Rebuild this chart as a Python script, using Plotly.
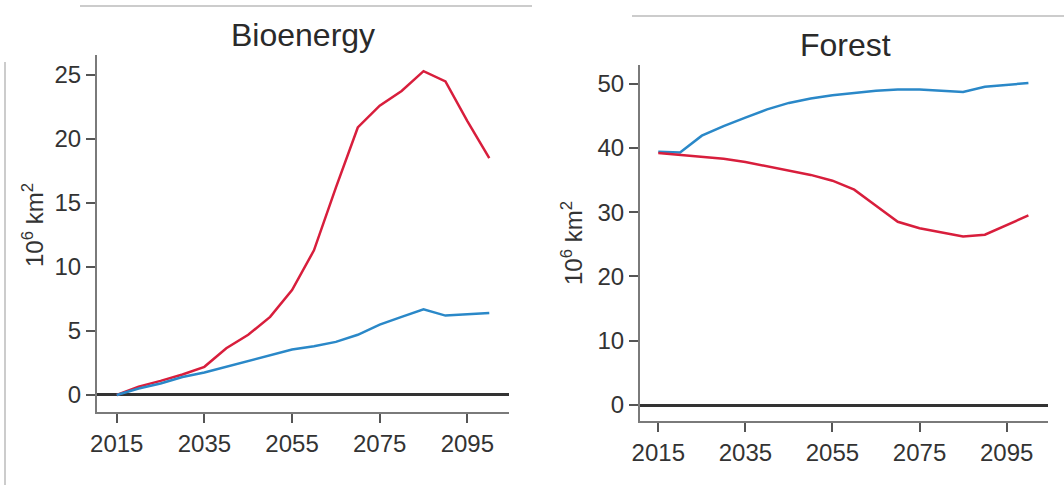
import plotly.graph_objects as go

years = list(range(2015, 2101, 5))

bio_red = [0.0, 0.65, 1.1, 1.6, 2.2, 3.65, 4.7, 6.1, 8.2, 11.3, 16.2, 20.9, 22.6, 23.75, 25.3, 24.5, 21.4, 18.5]
bio_blue = [0.0, 0.5, 0.9, 1.4, 1.75, 2.2, 2.7, 3.15, 3.55, 3.8, 4.15, 4.7, 5.5, 6.1, 6.7, 6.2, 6.3, 6.4]

forest_blue = [39.4, 39.3, 41.9, 43.4, 44.7, 46.0, 47.0, 47.7, 48.2, 48.6, 48.9, 49.1, 49.1, 48.9, 48.7, 49.5, 49.8, 50.1]
forest_red = [39.2, 38.9, 38.6, 38.3, 37.8, 37.1, 36.5, 35.8, 34.9, 33.5, 31.0, 28.5, 27.5, 26.9, 26.2, 26.5, 28.0, 29.5]

x_ticks = [2015, 2035, 2055, 2075, 2095]
bio_yticks = [0, 5, 10, 15, 20, 25]
forest_yticks = [0, 10, 20, 30, 40, 50]
titles = ["Bioenergy", "Forest"]
ylabel = "10<sup>6</sup> km<sup>2</sup>"

RED = "#d81e3c"
BLUE = "#2a88c8"
W, H = 1064, 485
FONT = "Liberation Sans, Arial, sans-serif"

fig = go.Figure()
fig.add_trace(go.Scatter(x=years, y=bio_red, mode="lines", line=dict(color=RED, width=2.5), xaxis="x", yaxis="y", showlegend=False))
fig.add_trace(go.Scatter(x=years, y=bio_blue, mode="lines", line=dict(color=BLUE, width=2.5), xaxis="x", yaxis="y", showlegend=False))
fig.add_trace(go.Scatter(x=years, y=forest_blue, mode="lines", line=dict(color=BLUE, width=2.5), xaxis="x2", yaxis="y2", showlegend=False))
fig.add_trace(go.Scatter(x=years, y=forest_red, mode="lines", line=dict(color=RED, width=2.5), xaxis="x2", yaxis="y2", showlegend=False))

def px_x(p):
    return p / W

def px_y(p):
    return 1 - p / H

axis_common = dict(showgrid=False, showline=True, linecolor="#7a7a7a", linewidth=2,
                   ticks="outside", ticklen=9, tickwidth=2, tickcolor="#555555",
                   tickfont=dict(family=FONT, size=24, color="#333333"))

fig.update_layout(
    width=W, height=H, autosize=False,
    margin=dict(l=0, r=0, t=0, b=0, autoexpand=False),
    paper_bgcolor="white", plot_bgcolor="white",
    xaxis=dict(domain=[px_x(97), px_x(509)], range=[2010.5, 2104.5], tickvals=x_ticks,
               anchor="y", zeroline=False, **axis_common),
    yaxis=dict(domain=[px_y(412), px_y(55)], range=[-1.33, 26.56], tickvals=bio_yticks,
               anchor="x", zeroline=True, zerolinecolor="#333333", zerolinewidth=3, **axis_common),
    xaxis2=dict(domain=[px_x(640), px_x(1048)], range=[2010.8, 2104.5], tickvals=x_ticks,
                anchor="y2", zeroline=False, **axis_common),
    yaxis2=dict(domain=[px_y(421), px_y(65)], range=[-2.49, 52.9], tickvals=forest_yticks,
                anchor="x2", zeroline=True, zerolinecolor="#333333", zerolinewidth=3, **axis_common),
)

# panel titles
for text, (cx, cy) in zip(titles, [(303, 35), (845, 45)]):
    fig.add_annotation(text=text, x=px_x(cx), y=px_y(cy), xref="paper", yref="paper",
                       showarrow=False, font=dict(family=FONT, size=32, color="#2a2a2a"),
                       xanchor="center", yanchor="middle")

# y-axis labels
for (cx, cy) in [(33, 225), (572, 243)]:
    fig.add_annotation(text=ylabel, x=px_x(cx), y=px_y(cy), xref="paper", yref="paper",
                       showarrow=False, textangle=-90, font=dict(family=FONT, size=24, color="#333333"),
                       xanchor="center", yanchor="middle")

# decorative frame lines from the source layout
deco = dict(type="line", xref="paper", yref="paper", line=dict(color="#cccccc", width=2))
fig.add_shape(x0=px_x(80), x1=px_x(532), y0=px_y(6), y1=px_y(6), **deco)
fig.add_shape(x0=px_x(632), x1=px_x(1064), y0=px_y(16), y1=px_y(16), **deco)
fig.add_shape(x0=px_x(5), x1=px_x(5), y0=px_y(62), y1=px_y(485), **deco)

fig.write_html(
    "out.html",
    config={"displayModeBar": False, "responsive": False},
    post_script="document.documentElement.style.margin='0';document.body.style.margin='0';"
                "document.body.style.padding='0';document.body.style.overflow='hidden';",
)
